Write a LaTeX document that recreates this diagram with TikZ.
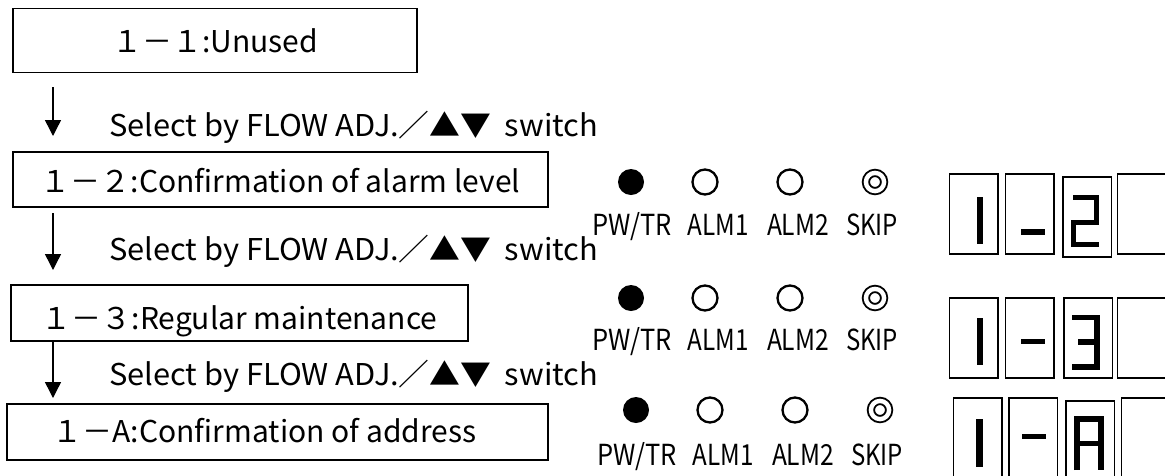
\documentclass[tikz,border=0pt]{standalone}
\usepackage{fontspec}
\setmainfont{Noto Sans CJK JP}
\usetikzlibrary{arrows.meta}
\newcommand{\fitw}[2]{\resizebox{#1}{\height}{#2}}
\begin{document}
\begin{tikzpicture}[x=1pt,y=-1pt,
  box/.style={draw, line width=1.6pt, inner sep=0pt, font=\fontsize{30}{30}\selectfont},
  rowtext/.style={inner sep=0pt, anchor=base west, font=\fontsize{30}{30}\selectfont},
  ledlabel/.style={inner sep=0pt, anchor=base, font=\fontsize{29}{29}\selectfont},
  flowarrow/.style={line width=1.4pt, -{Triangle[width=16pt,length=16pt]}},
  ledon/.style={circle, fill=black, inner sep=0pt, minimum size=26pt},
  ledoff/.style={circle, draw, line width=2.3pt, inner sep=0pt, minimum size=25pt},
  ledskip/.style={circle, double, double distance=4.4pt, draw, line width=1.9pt, inner sep=0pt, minimum size=18.2pt},
  seg/.style={draw, line width=1.5pt, inner sep=0pt},
  stroke/.style={line width=6.2pt, line cap=butt, line join=miter}
]
\useasboundingbox (0,0) rectangle (1165,475);

% ---------- left column: steps ----------
\node[box, minimum width=404pt, minimum height=64pt, text height=26.4pt, text depth=2pt] (b1) at (215,40.3) {１－１:Unused};
\node[box, minimum width=535pt, minimum height=55pt, text height=28pt, text depth=2pt] (b2) at (280.5,179.5) {１－２:Confirmation of alarm level};
\node[box, minimum width=457pt, minimum height=56pt, text height=34pt, text depth=2pt] (b3) at (239.5,313) {１－３:Regular maintenance};
\node[box, minimum width=541pt, minimum height=56pt, text height=22pt, text depth=2pt] (b4) at (277.5,432) {\hspace*{-26pt}１－A:Confirmation of address};

\coordinate (a1s) at (53,87);  \coordinate (a1e) at (53,136);
\coordinate (a2s) at (53,213); \coordinate (a2e) at (53,270);
\coordinate (a3s) at (53,340); \coordinate (a3e) at (53,398);
\draw[flowarrow] (a1s) -- (a1e);
\draw[flowarrow] (a2s) -- (a2e);
\draw[flowarrow] (a3s) -- (a3e);

\node[rowtext] (s1) at (109,136) {\fitw{489pt}{Select by FLOW ADJ.／▲▼\hspace{0.45em}switch}};
\node[rowtext] (s2) at (109,260) {\fitw{489pt}{Select by FLOW ADJ.／▲▼\hspace{0.45em}switch}};
\node[rowtext] (s3) at (109,385) {\fitw{489pt}{Select by FLOW ADJ.／▲▼\hspace{0.45em}switch}};

% ---------- LED indicators ----------
\foreach \r/\y/\ly/\dx in {1/182/235/0, 2/298/350/0, 3/410/465/5}{
  \node[ledon]   (pw\r)  at (631+\dx,\y) {};
  \node[ledoff]  (al\r)  at (705+\dx,\y) {};
  \node[ledoff]  (am\r)  at (790+\dx,\y) {};
  \node[ledskip] (sk\r)  at (875+\dx,\y) {};
  \node[ledlabel] (pwl\r) at (632+\dx,\ly) {\fitw{79pt}{PW/TR}};
  \node[ledlabel] (all\r) at (718+\dx,\ly) {\fitw{61pt}{ALM1}};
  \node[ledlabel] (aml\r) at (798+\dx,\ly) {\fitw{62pt}{ALM2}};
  \node[ledlabel] (skl\r) at (872+\dx,\ly) {\fitw{52pt}{SKIP}};
}

% ---------- 7-segment display windows ----------
% row 1
\node[seg, minimum width=48.5pt, minimum height=80pt] (d11) at (973.5,214) {};
\node[seg, minimum width=48.5pt, minimum height=80pt] (d12) at (1029.5,214) {};
\node[seg, minimum width=48.5pt, minimum height=80pt] (d13) at (1087,217) {};
\node[seg, minimum width=48.5pt, minimum height=80pt] (d14) at (1141.5,214) {};
\draw[stroke] (980,197) -- (980,244);
\draw[stroke, line width=5.2pt] (1021,232) -- (1045,232);
\draw[stroke, line width=5.6pt] (1073.3,197.5) -- (1096.4,197.5) -- (1096.4,222.5) -- (1073.6,222.5) -- (1073.6,244.5) -- (1099.3,244.5);
% row 2
\node[seg, minimum width=48.5pt, minimum height=80pt] (d21) at (973.5,338) {};
\node[seg, minimum width=48.5pt, minimum height=80pt] (d22) at (1029.5,338) {};
\node[seg, minimum width=48.5pt, minimum height=80pt] (d23) at (1088,338) {};
\node[seg, minimum width=48.5pt, minimum height=80pt] (d24) at (1141.5,338) {};
\draw[stroke] (980,318) -- (980,365);
\draw[stroke, line width=5.2pt] (1021,341.7) -- (1045,341.7);
\draw[stroke, line width=5.6pt] (1072.3,317.5) -- (1097.2,317.5) -- (1097.2,366.8) -- (1072.3,366.8);
\draw[stroke, line width=5.6pt] (1078.3,341.7) -- (1097.2,341.7);
% row 3
\node[seg, minimum width=48.5pt, minimum height=80pt] (d31) at (977.5,438) {};
\node[seg, minimum width=48.5pt, minimum height=80pt] (d32) at (1033,438) {};
\node[seg, minimum width=48.5pt, minimum height=80pt] (d33) at (1090,441) {};
\node[seg, minimum width=48.5pt, minimum height=80pt] (d34) at (1145.5,438) {};
\draw[stroke] (979.5,419.3) -- (979.5,467.3);
\draw[stroke, line width=5.2pt] (1022,436.7) -- (1046,436.7);
\draw[stroke, line width=5.6pt] (1077,470) -- (1077,419.2) -- (1101,419.2) -- (1101,470);
\draw[stroke, line width=5.6pt] (1077,443.3) -- (1101,443.3);
\end{tikzpicture}
\end{document}
